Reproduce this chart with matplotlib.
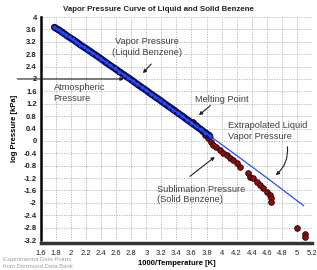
import matplotlib
matplotlib.use('Agg')
import matplotlib.pyplot as plt
from matplotlib.ticker import MultipleLocator, FormatStrFormatter

plt.rcParams['font.family'] = ['Liberation Sans', 'DejaVu Sans']

# liquid benzene (experimental, Dortmund Data Bank)
liq_x = [1.78, 1.81, 1.84, 1.87, 1.90, 1.94, 1.98, 2.02, 2.07, 2.12, 2.17, 2.22,
         2.28, 2.34, 2.40, 2.46, 2.52, 2.58, 2.64, 2.70, 2.76, 2.82, 2.88, 2.94,
         3.00, 3.06, 3.12, 3.18, 3.24, 3.30, 3.36, 3.42, 3.48, 3.54, 3.60, 3.66,
         3.72, 3.78, 3.84]
liq_y = [3.67, 3.62, 3.58, 3.53, 3.48, 3.41, 3.34, 3.28, 3.20, 3.11, 3.03, 2.95,
         2.85, 2.75, 2.65, 2.54, 2.44, 2.34, 2.24, 2.14, 2.04, 1.94, 1.83, 1.73,
         1.63, 1.52, 1.42, 1.32, 1.21, 1.11, 1.01, 0.90, 0.80, 0.69, 0.59, 0.48,
         0.38, 0.27, 0.17]

# extrapolated liquid vapor pressure
ext_x = [1.78, 2.40, 3.00, 3.60, 3.84, 4.20, 4.60, 5.09]
ext_y = [3.67, 2.65, 1.63, 0.59, 0.17, -0.47, -1.19, -2.09]

# solid benzene (sublimation)
sol_x = [3.62, 3.66, 3.70, 3.74, 3.78, 3.82, 3.86, 3.89, 3.93, 3.98, 4.02, 4.07,
         4.11, 4.15, 4.20, 4.24, 4.35, 4.38, 4.42, 4.47, 4.51, 4.55, 4.60, 4.64,
         4.66, 4.66, 5.00, 5.11, 5.11]
sol_y = [0.62, 0.52, 0.42, 0.32, 0.20, 0.08, -0.03, -0.13, -0.21, -0.29, -0.38, -0.46,
         -0.54, -0.62, -0.72, -0.83, -1.05, -1.16, -1.21, -1.32, -1.42, -1.53, -1.64, -1.75,
         -1.85, -1.96, -2.80, -3.02, -3.09]

fig = plt.figure(figsize=(3.17, 2.70), dpi=100)
ax = fig.add_axes([0.129, 0.111, 0.855, 0.826])

ax.plot(ext_x, ext_y, color='#2a4cff', lw=0.9, zorder=3)
ax.plot(sol_x, sol_y, 'o', ms=4.0, mfc='#8a1010', mec='#3a0000', mew=0.7, zorder=4)
ax.plot(liq_x, liq_y, '-', color='#0a0a50', lw=5.0, solid_capstyle='round', zorder=5)
ax.plot(liq_x, liq_y, 'o', ms=3.6, mfc='#2040e0', mec='#0a0a50', mew=0.6, zorder=6)
ax.plot(liq_x, liq_y, '-', color='#2a4cff', lw=1.3, zorder=7)

ax.set_xlim(1.6, 5.2)
ax.set_ylim(-3.2, 4)
ax.xaxis.set_major_locator(MultipleLocator(0.2))
ax.yaxis.set_major_locator(MultipleLocator(0.4))
ax.xaxis.set_major_formatter(FormatStrFormatter('%g'))
ax.yaxis.set_major_formatter(FormatStrFormatter('%g'))
ax.tick_params(length=0, labelsize=5.5, colors='#222222')
ax.tick_params(axis='x', pad=5)
ax.tick_params(axis='y', pad=3)
for lab in ax.get_xticklabels() + ax.get_yticklabels():
    lab.set_fontweight('bold')
ax.grid(True, ls=(0, (1.5, 1.5)), color='#b0b0b0', lw=0.6)

for s in ['top', 'right']:
    ax.spines[s].set_visible(False)
ax.spines['left'].set_linewidth(1.8)
ax.spines['bottom'].set_linewidth(2.5)
ax.spines['bottom'].set_color('#333333')
ax.spines['bottom'].set_position(('outward', 2))

ax.set_ylabel('log Pressure [kPa]', fontsize=5.5, fontweight='bold', labelpad=4)
ax.set_xlabel('1000/Temperature [K]', fontsize=5.5, fontweight='bold', labelpad=2)
fig.text(0.5, 0.965, 'Vapor Pressure Curve of Liquid and Solid Benzene',
         ha='center', va='center', fontsize=5.7, fontweight='bold', color='#222222')
fig.text(0.01, 0.047, 'Experimental Data Points\nfrom Dortmund Data Bank',
         ha='left', va='top', fontsize=4.3, color='#a0a0a0', linespacing=1.3)

tc = '#404040'
fs = 6.7
ap = dict(arrowstyle='-|>', color='#202020', lw=0.8, mutation_scale=5)
ax.text(3.01, 3.03, 'Vapor Pressure\n(Liquid Benzene)', ha='center', va='center',
        fontsize=fs, color=tc)
ax.annotate('', xy=(2.93, 2.12), xytext=(3.09, 2.55), arrowprops=ap)
ax.text(1.77, 1.55, 'Atmospheric\nPressure', ha='left', va='center', fontsize=fs, color=tc)
ax.annotate('', xy=(2.74, 2.0), xytext=(1.25, 2.0), arrowprops=ap, annotation_clip=False)
ax.text(3.65, 1.35, 'Melting Point', ha='left', va='center', fontsize=fs, color=tc)
ax.annotate('', xy=(3.67, 0.77), xytext=(3.88, 1.2), arrowprops=ap)
ax.text(4.08, 0.32, 'Extrapolated Liquid\nVapor Pressure', ha='left', va='center',
        fontsize=fs, color=tc)
ax.annotate('', xy=(4.69, -1.16), xytext=(4.87, -0.1),
            arrowprops=dict(ap, connectionstyle='arc3,rad=-0.3'))
ax.text(3.14, -1.73, 'Sublimation Pressure\n(Solid Benzene)', ha='left', va='center',
        fontsize=fs, color=tc)
ax.annotate('', xy=(3.94, -0.46), xytext=(3.55, -1.2), arrowprops=ap)

fig.savefig('out.png', dpi=100, facecolor='white')
